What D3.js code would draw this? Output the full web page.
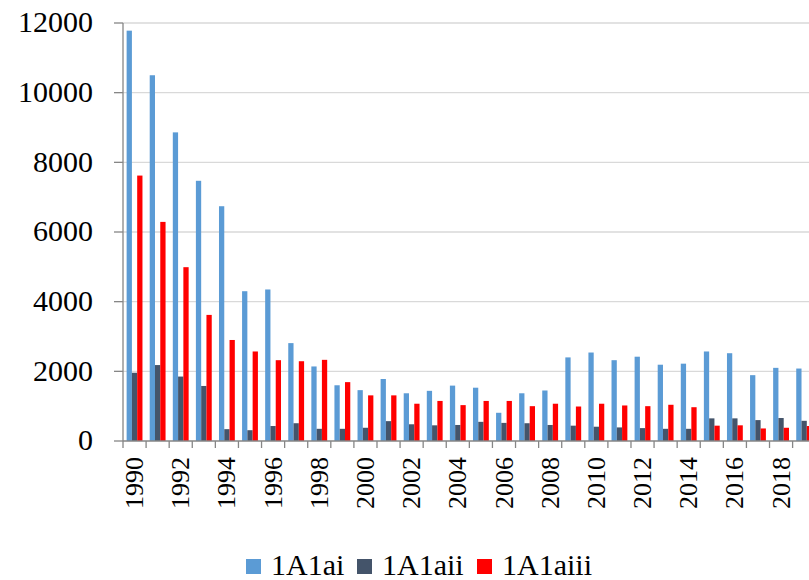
<!DOCTYPE html>
<html>
<head>
<meta charset="utf-8">
<script src="https://cdn.jsdelivr.net/npm/d3@7"></script>
<style>
  html, body { margin: 0; padding: 0; background: #fff; }
  svg { display: block; }
  svg text { font-family: 'Liberation Serif', 'Times New Roman', Times, 'DejaVu Serif', serif; }
</style>
</head>
<body>
<svg id="chart" width="809" height="580"></svg>
<script>
const years = d3.range(1990, 2020).map(String);
const seriesNames = ["1A1ai", "1A1aii", "1A1aiii"];
const seriesColors = ["#5B9BD5", "#44546A", "#FF0000"];

const s1A1ai = [11780, 10500, 8860, 7470, 6740, 4300, 4350, 2810, 2140, 1600,
                1460, 1780, 1370, 1440, 1590, 1530, 810, 1370, 1450, 2400,
                2540, 2320, 2420, 2190, 2220, 2570, 2520, 1890, 2100, 2080];
const s1A1aii = [1960, 2180, 1850, 1580, 340, 310, 430, 510, 350, 350,
                 380, 570, 480, 450, 460, 550, 520, 510, 460, 440,
                 410, 390, 370, 350, 350, 650, 650, 600, 660, 580];
const s1A1aiii = [7620, 6290, 4990, 3620, 2900, 2570, 2320, 2290, 2330, 1690,
                  1310, 1310, 1070, 1150, 1030, 1150, 1150, 1000, 1070, 990,
                  1070, 1020, 1000, 1040, 970, 440, 450, 360, 380, 430];
const yTicks = [0, 2000, 4000, 6000, 8000, 10000, 12000];

(function () {
const FONT = "'Liberation Serif', 'Times New Roman', 'DejaVu Serif', serif";
const seriesData = [s1A1ai, s1A1aii, s1A1aiii];
const rows = years.map((yr, i) => ({
  year: yr,
  values: seriesNames.map((n, k) => ({ key: n, value: seriesData[k][i], color: seriesColors[k] }))
}));

const svg = d3.select("#chart");
const pLeft = 123, pRight = 815.7, pTop = 23, pBottom = 441;

const x0 = d3.scaleBand().domain(years).range([pLeft, pRight]).padding(0);
const bw = x0.bandwidth();
const x1 = d3.scaleBand().domain(seriesNames).range([bw * 0.157, bw * 0.843]).padding(0);
const y = d3.scaleLinear().domain([0, 12000]).range([pBottom, pTop]);

// gridlines
svg.append("g").selectAll("line").data(yTicks.filter(d => d > 0)).join("line")
  .attr("x1", pLeft).attr("x2", 809)
  .attr("y1", d => y(d)).attr("y2", d => y(d))
  .attr("stroke", "#D9D9D9").attr("stroke-width", 1.3);

// bars
const groups = svg.append("g").selectAll("g").data(rows).join("g")
  .attr("transform", d => `translate(${x0(d.year)},0)`);
groups.selectAll("rect").data(d => d.values).join("rect")
  .attr("x", d => x1(d.key))
  .attr("width", x1.bandwidth())
  .attr("y", d => y(d.value))
  .attr("height", d => pBottom - y(d.value))
  .attr("fill", d => d.color);

// y axis
const yAxis = svg.append("g");
yAxis.append("line").attr("x1", pLeft).attr("x2", pLeft).attr("y1", pTop).attr("y2", pBottom)
  .attr("stroke", "#868686").attr("stroke-width", 1.3);
yAxis.selectAll("line.tick").data(yTicks).join("line").attr("class", "tick")
  .attr("x1", 114).attr("x2", pLeft).attr("y1", d => y(d)).attr("y2", d => y(d))
  .attr("stroke", "#868686").attr("stroke-width", 1.3);
yAxis.selectAll("text").data(yTicks).join("text")
  .attr("x", 93).attr("y", d => y(d)).attr("dy", "0.31em")
  .attr("font-family", FONT)
  .attr("text-anchor", "end").attr("font-size", 30).attr("fill", "#000")
  .text(d => d);

// x axis
const xAxis = svg.append("g");
xAxis.append("line").attr("x1", pLeft).attr("x2", 809).attr("y1", pBottom).attr("y2", pBottom)
  .attr("stroke", "#868686").attr("stroke-width", 1.3);
xAxis.selectAll("line.tick").data(years.concat(["end"])).join("line").attr("class", "tick")
  .attr("x1", (d, i) => pLeft + i * bw).attr("x2", (d, i) => pLeft + i * bw)
  .attr("y1", pBottom).attr("y2", pBottom + 7)
  .attr("stroke", "#868686").attr("stroke-width", 1.3);
xAxis.selectAll("text").data(years.filter((d, i) => i % 2 === 0)).join("text")
  .attr("transform", d => `translate(${x0(d) + bw / 2},457) rotate(-90)`)
  .attr("dy", "0.33em")
  .attr("font-family", FONT)
  .attr("text-anchor", "end").attr("font-size", 26).attr("fill", "#000")
  .text(d => d);

// legend
const legendPos = [246, 357, 477];
const legend = svg.append("g").selectAll("g").data(seriesNames).join("g")
  .attr("transform", (d, i) => `translate(${legendPos[i]},0)`);
legend.append("rect").attr("x", 0).attr("y", 559).attr("width", 15).attr("height", 15)
  .attr("fill", (d, i) => seriesColors[i]);
legend.append("text").attr("x", 25).attr("y", 575)
  .attr("font-family", FONT)
  .attr("font-size", 30).attr("fill", "#000").text(d => d);
})();
</script>
</body>
</html>
